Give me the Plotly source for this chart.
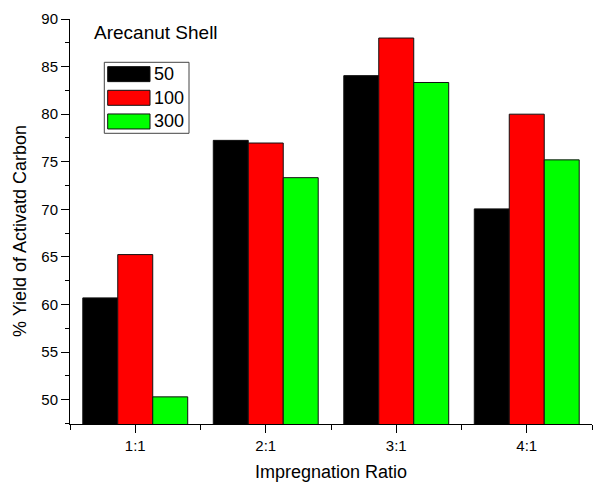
import plotly.graph_objects as go

categories = ["1:1", "2:1", "3:1", "4:1"]
series_names = ["50", "100", "300"]
yield_50 = [60.7, 77.25, 84.05, 70.05]
yield_100 = [65.25, 76.97, 88.0, 80.0]
yield_300 = [50.3, 73.33, 83.33, 75.2]
colors = ["#000000", "#ff0000", "#00ff00"]
y_ticks = [50, 55, 60, 65, 70, 75, 80, 85, 90]

FONT = "Liberation Sans, Arial, sans-serif"
xpos = list(range(1, len(categories) + 1))

fig = go.Figure()
for name, vals, col in zip(series_names, [yield_50, yield_100, yield_300], colors):
    fig.add_trace(go.Bar(
        x=xpos, y=vals, name=name,
        marker=dict(color=col, line=dict(color="#111111", width=1)),
        base=0, showlegend=False,
    ))

fig.update_layout(
    width=605, height=482,
    margin=dict(l=70, r=13, t=19, b=58),
    plot_bgcolor="white", paper_bgcolor="white",
    barmode="group", bargap=0.196, bargroupgap=0,
    font=dict(family=FONT, color="black"),
    xaxis=dict(
        range=[0.5, 4.5], tickvals=xpos, ticktext=categories,
        showline=True, linecolor="black", linewidth=1,
        ticks="outside", ticklen=8, tickcolor="black", tickwidth=1,
        minor=dict(tickvals=[0.5, 1.5, 2.5, 3.5, 4.5], ticks="outside", ticklen=5,
                   tickcolor="black", tickwidth=1),
        showgrid=False, zeroline=False, automargin=False,
        tickfont=dict(size=15),
    ),
    yaxis=dict(
        range=[47.45, 90], tickvals=y_ticks,
        showline=True, linecolor="black", linewidth=1,
        ticks="outside", ticklen=8, tickcolor="black", tickwidth=1,
        minor=dict(dtick=2.5, tick0=0, ticks="outside", ticklen=4,
                   tickcolor="black", tickwidth=1, showgrid=False),
        showgrid=False, zeroline=False, automargin=False,
        tickfont=dict(size=15),
    ),
)

def px(x):
    return (x - 70) / 522
def py(y):
    return (424 - y) / 405

# Axis titles (placed to match the reference)
fig.add_annotation(xref="paper", yref="paper", x=px(20), y=py(231),
                   text="% Yield of Activatd Carbon", showarrow=False, textangle=-90,
                   xanchor="center", yanchor="middle",
                   font=dict(size=18, family=FONT))
fig.add_annotation(xref="paper", yref="paper", x=px(331), y=py(472),
                   text="Impregnation Ratio", showarrow=False,
                   xanchor="center", yanchor="middle",
                   font=dict(size=18, family=FONT))

# Inset title
fig.add_annotation(xref="paper", yref="paper", x=px(92), y=py(33),
                   text="Arecanut Shell", showarrow=False, xanchor="left", yanchor="middle",
                   font=dict(size=19, family=FONT))

# Custom legend box
lx0, lx1, ly0, ly1 = 104.3, 189, 62.3, 133.3
fig.add_shape(type="rect", xref="paper", yref="paper",
              x0=px(lx0), x1=px(lx1), y0=py(ly1), y1=py(ly0),
              line=dict(color="#444444", width=1), fillcolor="white")
row_h = (ly1 - ly0) / 3
for i, (name, col) in enumerate(zip(series_names, colors)):
    cy = ly0 + row_h * (i + 0.5)
    fig.add_shape(type="rect", xref="paper", yref="paper",
                  x0=px(107.7), x1=px(150), y0=py(cy + 7.5), y1=py(cy - 7.5),
                  line=dict(color="#111111", width=1), fillcolor=col)
    fig.add_annotation(xref="paper", yref="paper", x=px(152), y=py(cy),
                       text=name, showarrow=False, xanchor="left", yanchor="middle",
                       font=dict(size=18, family=FONT))

fig.write_html("out.html")
